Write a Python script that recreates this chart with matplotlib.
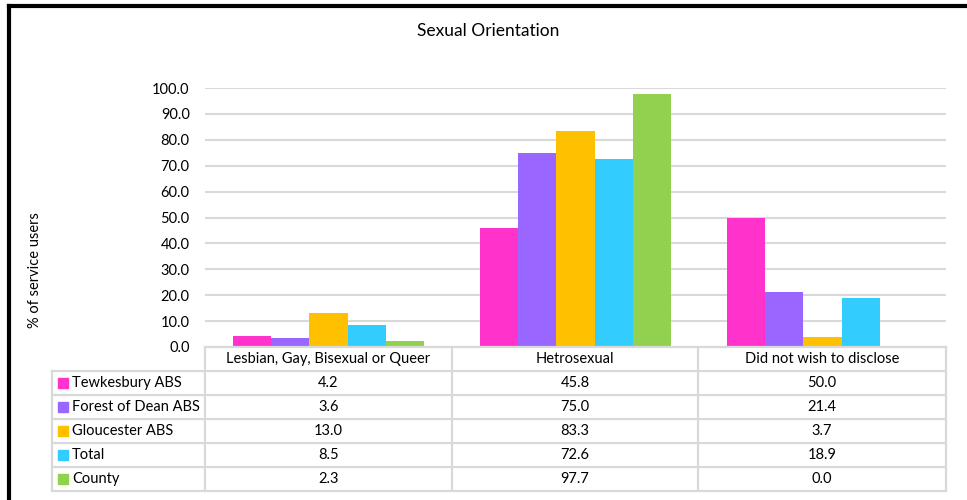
import matplotlib
matplotlib.use("Agg")
import matplotlib.pyplot as plt
from matplotlib.patches import Rectangle
from matplotlib.lines import Line2D

categories = ["Lesbian, Gay, Bisexual or Queer", "Hetrosexual", "Did not wish to disclose"]
series_names = ["Tewkesbury ABS", "Forest of Dean ABS", "Gloucester ABS", "Total", "County"]
tewkesbury = [4.2, 45.8, 50.0]
forest_of_dean = [3.6, 75.0, 21.4]
gloucester = [13.0, 83.3, 3.7]
total = [8.5, 72.6, 18.9]
county = [2.3, 97.7, 0.0]
series_values = [tewkesbury, forest_of_dean, gloucester, total, county]
colors = ["#FF33CC", "#9966FF", "#FFC000", "#33CCFF", "#92D050"]
yticks = [0, 10, 20, 30, 40, 50, 60, 70, 80, 90, 100]

plt.rcParams['font.family'] = ['Lato', 'DejaVu Sans']
W, H = 967, 500
fig = plt.figure(figsize=(W / 100, H / 100), dpi=100)

def px_rect(x0, y0, x1, y1):
    return [x0 / W, 1 - y1 / H, (x1 - x0) / W, (y1 - y0) / H]

grid_c = "#d9d9d9"
ax = fig.add_axes(px_rect(205, 88, 946, 347))
n = len(series_names)
bw = 0.155
for i, (vals, c) in enumerate(zip(series_values, colors)):
    xs = [k + (i - (n - 1) / 2) * bw for k in range(len(categories))]
    ax.bar(xs, vals, width=bw, color=c, zorder=3)
ax.set_xlim(-0.5, len(categories) - 0.5)
ax.set_ylim(0, 100)
ax.set_yticks(yticks)
ax.set_yticklabels([f"{v:.1f}" for v in yticks], fontsize=10.5, color="#000000")
ax.tick_params(axis='y', length=0, pad=11)
ax.set_xticks([])
for s in ax.spines.values():
    s.set_visible(False)
ax.yaxis.grid(True, color=grid_c, linewidth=1.5, zorder=0)
ax.set_axisbelow(True)

# title and ylabel
fig.text(488 / W, 1 - 31 / H, "Sexual Orientation", ha='center', va='center', fontsize=12.5)
fig.text(35 / W, 1 - 270 / H, "% of service users", ha='center', va='center',
         rotation=90, fontsize=10.5)

# data table
tx0, tx1 = 52, 946
col_edges = [205, 452, 698, 946]
ty0 = 347
rh = 24
rows_y = [ty0 + k * rh for k in range(n + 2)]
lw = 1.6

def hline(x0, x1, y):
    fig.add_artist(Line2D([x0 / W, x1 / W], [1 - y / H, 1 - y / H], color=grid_c, lw=lw))

def vline(x, y0, y1):
    fig.add_artist(Line2D([x / W, x / W], [1 - y0 / H, 1 - y1 / H], color=grid_c, lw=lw))

hline(205, tx1, rows_y[0])
for y in rows_y[1:]:
    hline(tx0, tx1, y)
vline(tx0, rows_y[1], rows_y[-1])
for x in col_edges:
    vline(x, rows_y[0], rows_y[-1])

for j, cat in enumerate(categories):
    cx = (col_edges[j] + col_edges[j + 1]) / 2
    fig.text(cx / W, 1 - (rows_y[0] + rh / 2) / H, cat, ha='center', va='center', fontsize=10.5)

for i, (name, vals, c) in enumerate(zip(series_names, series_values, colors)):
    yc = rows_y[i + 1] + rh / 2
    fig.add_artist(Rectangle((58 / W, 1 - (yc + 5) / H), 10 / W, 10 / H,
                             transform=fig.transFigure, color=c))
    fig.text(72 / W, 1 - yc / H, name, ha='left', va='center', fontsize=10.5)
    for j, v in enumerate(vals):
        cx = (col_edges[j] + col_edges[j + 1]) / 2
        fig.text(cx / W, 1 - yc / H, f"{v:.1f}", ha='center', va='center', fontsize=10.5)

# outer border (top and left visible)
fig.add_artist(Line2D([9 / W, 1], [1 - 6 / H, 1 - 6 / H], color="black", lw=3))
fig.add_artist(Line2D([9 / W, 9 / W], [0, 1 - 6 / H], color="black", lw=3))

fig.savefig("out.png", dpi=100)
